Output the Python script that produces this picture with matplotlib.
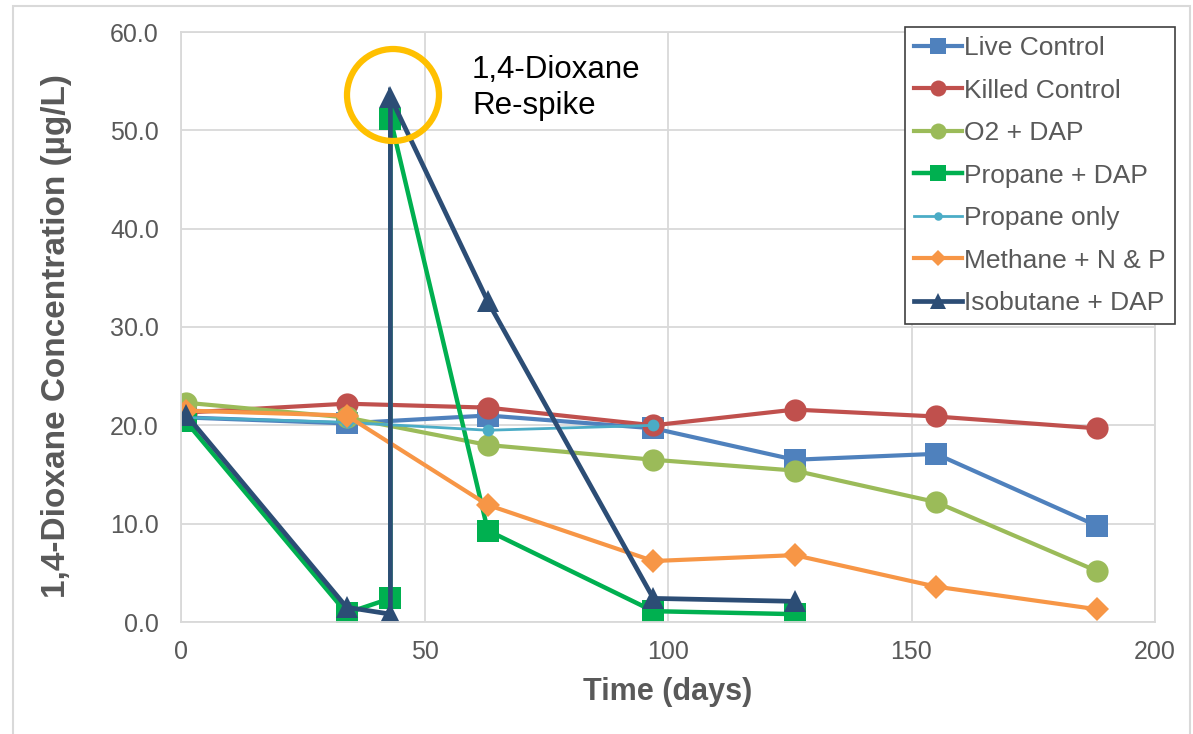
import matplotlib
matplotlib.use("Agg")
import matplotlib.pyplot as plt
from matplotlib.patches import Rectangle, Ellipse

plt.rcParams['font.family'] = ['Liberation Sans', 'DejaVu Sans']

# ---- data ----
live_x = [1, 34, 63, 97, 126, 155, 188]
live_y = [20.8, 20.2, 21.0, 19.7, 16.5, 17.1, 9.8]

killed_x = [1, 34, 63, 97, 126, 155, 188]
killed_y = [21.3, 22.2, 21.8, 20.0, 21.6, 20.9, 19.7]

o2_x = [1, 34, 63, 97, 126, 155, 188]
o2_y = [22.3, 20.8, 18.0, 16.5, 15.4, 12.2, 5.2]

propdap_x = [1, 34, 43, 43, 63, 97, 126]
propdap_y = [20.4, 0.9, 2.4, 51.2, 9.3, 1.1, 0.8]

proponly_x = [1, 34, 63, 97]
proponly_y = [20.8, 20.3, 19.5, 20.0]

methane_x = [1, 34, 63, 97, 126, 155, 188]
methane_y = [21.5, 21.0, 11.9, 6.2, 6.8, 3.6, 1.3]

isob_x = [1, 34, 43, 43, 63, 97, 126]
isob_y = [21.1, 1.5, 0.8, 53.4, 32.6, 2.4, 2.1]

labels = ["Live Control", "Killed Control", "O2 + DAP", "Propane + DAP",
          "Propane only", "Methane + N & P", "Isobutane + DAP"]
x_ticks = [0, 50, 100, 150, 200]
y_ticks = [0, 10, 20, 30, 40, 50, 60]

series = [
    (live_x, live_y, "#4F81BD", "s", 16, 3.0),
    (killed_x, killed_y, "#C0504D", "o", 16, 3.0),
    (o2_x, o2_y, "#9BBB59", "o", 16, 3.0),
    (propdap_x, propdap_y, "#00B050", "s", 16, 3.2),
    (proponly_x, proponly_y, "#4BACC6", "o", 8.5, 2.0),
    (methane_x, methane_y, "#F79646", "D", 12, 3.0),
    (isob_x, isob_y, "#2C4D75", "^", 16, 3.4),
]

fig = plt.figure(figsize=(11.93, 7.34), dpi=100)
ax = fig.add_axes([181/1193, 1-622/734, (1155-181)/1193, (622-32)/734])

handles = []
for (xs, ys, c, m, ms, lw), lab in zip(series, labels):
    h, = ax.plot(xs, ys, color=c, marker=m, markersize=ms, linewidth=lw,
                 markeredgewidth=0, label=lab, solid_joinstyle='miter')
    handles.append(h)

ax.set_xlim(0, 200)
ax.set_ylim(0, 60)
ax.set_xticks(x_ticks)
ax.set_yticks(y_ticks)
ax.yaxis.set_major_formatter(matplotlib.ticker.FormatStrFormatter('%.1f'))
ax.tick_params(length=0, labelsize=18, labelcolor='#595959')
ax.tick_params(axis='y', pad=16)
ax.tick_params(axis='x', pad=13)
ax.grid(True, color='#D9D9D9', linewidth=1.3)
ax.set_axisbelow(True)
for s in ax.spines.values():
    s.set_color('#D9D9D9')
    s.set_linewidth(1.3)

ax.set_xlabel("Time (days)", fontsize=22, fontweight='bold', color='#595959', labelpad=9)
ax.set_ylabel("1,4-Dioxane Concentration (µg/L)", fontsize=24, fontweight='bold',
              color='#595959')
ax.yaxis.set_label_coords(-0.112, 0.485)

# annotation circle and text
circ = Ellipse((393/1193, 1-95/734), 2*46/1193, 2*46/734, transform=fig.transFigure,
               fill=False, edgecolor='#FFC000', linewidth=4.5, zorder=10)
fig.add_artist(circ)
fig.text(472/1193, 1-88/734, "1,4-Dioxane\nRe-spike", fontsize=22.5, color='black',
         va='center', ha='left', linespacing=1.25)

leg = fig.legend(handles=handles, loc='upper left',
                 bbox_to_anchor=(905/1193, 1-27/734), fontsize=19,
                 frameon=True, fancybox=False, framealpha=1, edgecolor='#404040',
                 markerscale=0.72, handlelength=1.8, handletextpad=0.1,
                 labelspacing=0.7, borderpad=0.35, borderaxespad=0)
leg.get_frame().set_linewidth(1.2)
for t in leg.get_texts():
    t.set_color('#595959')

# outer chart border
fig.add_artist(Rectangle((13/1193, -0.01), (1190-13)/1193, 1.01-6/734,
                         transform=fig.transFigure, fill=False,
                         edgecolor='#D9D9D9', linewidth=1.5))

fig.savefig("out.png", dpi=100)
